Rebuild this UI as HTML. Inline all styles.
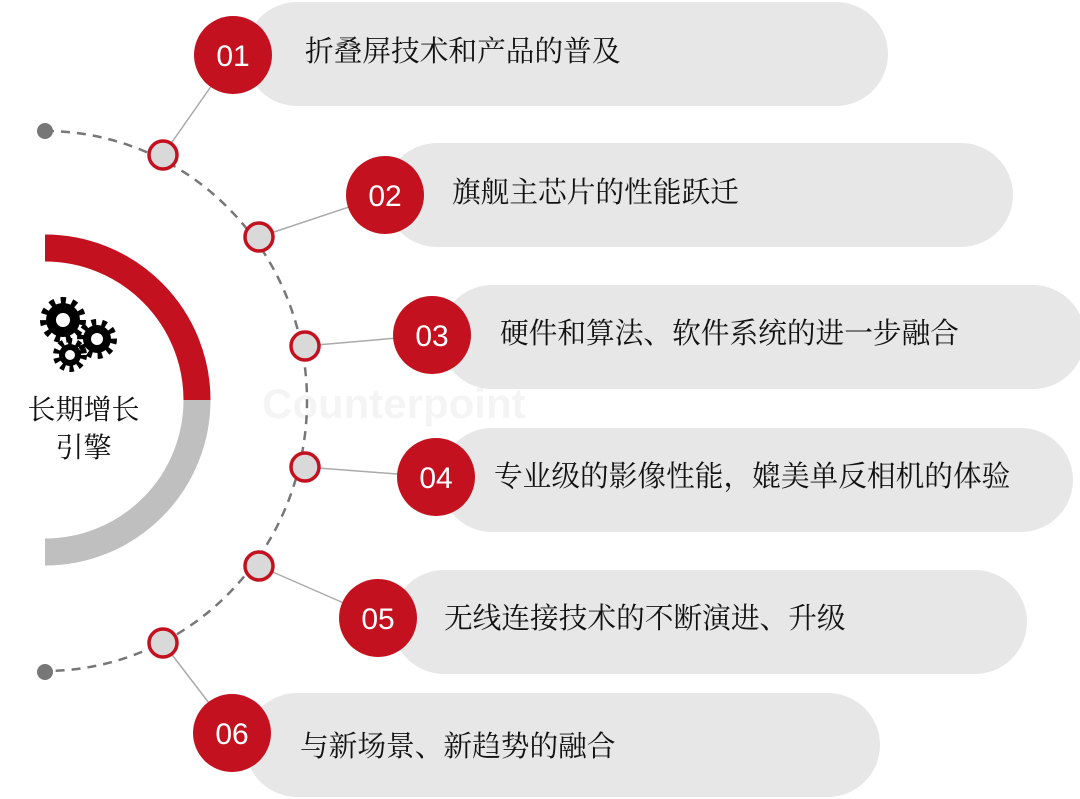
<!DOCTYPE html>
<html><head><meta charset="utf-8"><style>
body{margin:0;width:1080px;height:799px;background:#fff;overflow:hidden;position:relative;font-family:"Liberation Serif","Noto Serif CJK SC",serif;}
.pill{position:absolute;height:104px;border-radius:52px;background:#e7e7e7;}
.t{position:absolute;font-size:28.7px;color:#111;line-height:32px;white-space:nowrap;}
</style></head><body>
<div class="pill" style="left:245px;top:2px;width:643px"></div>
<div class="pill" style="left:385px;top:143px;width:628px"></div>
<div class="pill" style="left:440px;top:285px;width:645px"></div>
<div class="pill" style="left:440px;top:428px;width:633px"></div>
<div class="pill" style="left:392px;top:570px;width:635px"></div>
<div class="pill" style="left:245px;top:693px;width:635px"></div>
<svg width="1080" height="799" style="position:absolute;left:0;top:0">
<path d="M45 248 A152 152 0 0 1 197 400" fill="none" stroke="#c4111f" stroke-width="27"/>
<path d="M197 400 A152 152 0 0 1 45 552" fill="none" stroke="#bfbfbf" stroke-width="27"/>
<path d="M45 131 A262 270 0 0 1 45 671" fill="none" stroke="#777" stroke-width="2.5" stroke-dasharray="9,7"/>
<circle cx="45" cy="131" r="8" fill="#777"/><circle cx="45" cy="672" r="8" fill="#777"/>
<g stroke="#aaa" stroke-width="1.5">
<line x1="163" y1="155" x2="233" y2="55"/><line x1="259" y1="237" x2="385" y2="195"/>
<line x1="305" y1="346" x2="432" y2="335"/><line x1="305" y1="467" x2="436" y2="477"/>
<line x1="259" y1="566" x2="378" y2="618"/><line x1="163" y1="643" x2="232" y2="733"/>
</g>
<g fill="#d9d9d9" stroke="#c4111f" stroke-width="3.5">
<circle cx="163" cy="155" r="14"/><circle cx="259" cy="237" r="14"/><circle cx="305" cy="346" r="14"/>
<circle cx="305" cy="467" r="14"/><circle cx="259" cy="566" r="14"/><circle cx="163" cy="643" r="14"/>
</g>
<g fill="#c4111f">
<circle cx="233" cy="55" r="39"/><circle cx="385" cy="195" r="39"/><circle cx="432" cy="335" r="39"/>
<circle cx="436" cy="477" r="39"/><circle cx="378" cy="618" r="39"/><circle cx="232" cy="733" r="39"/>
</g>
<g fill="#fff" font-family="Liberation Sans, sans-serif" font-size="30" text-anchor="middle">
<text x="233" y="66">01</text><text x="385" y="206">02</text><text x="432" y="346">03</text>
<text x="436" y="488">04</text><text x="378" y="629">05</text><text x="232" y="744">06</text>
</g>
<g fill="#000">
<circle cx="63" cy="320" r="17"/><circle cx="97" cy="339" r="14"/><circle cx="70" cy="355" r="11"/>
<g stroke="#000" stroke-width="8" fill="none"><circle cx="63" cy="320" r="19" stroke-dasharray="5,5.9"/><circle cx="97" cy="339" r="16" stroke-dasharray="4.5,5.5"/><circle cx="70" cy="355" r="13" stroke-dasharray="4,4.4"/></g>
<g fill="#fff"><circle cx="63" cy="320" r="7"/><circle cx="97" cy="339" r="6"/><circle cx="70" cy="355" r="5"/></g>
</g>
<text x="262" y="418" font-family="Liberation Sans, sans-serif" font-size="42" font-weight="bold" fill="#000" opacity="0.04">Counterpoint</text>
</svg>
<div class="t" style="left:20px;top:392px;width:127px;text-align:center;line-height:38px;font-size:28px">长期增长<br>引擎</div>
<div class="t" style="left:305px;top:36px">折叠屏技术和产品的普及</div>
<div class="t" style="left:452px;top:177px">旗舰主芯片的性能跃迁</div>
<div class="t" style="left:500px;top:318px">硬件和算法、软件系统的进一步融合</div>
<div class="t" style="left:494px;top:461px">专业级的影像性能，媲美单反相机的体验</div>
<div class="t" style="left:444px;top:603px">无线连接技术的不断演进、升级</div>
<div class="t" style="left:300px;top:731px">与新场景、新趋势的融合</div>
</body></html>
